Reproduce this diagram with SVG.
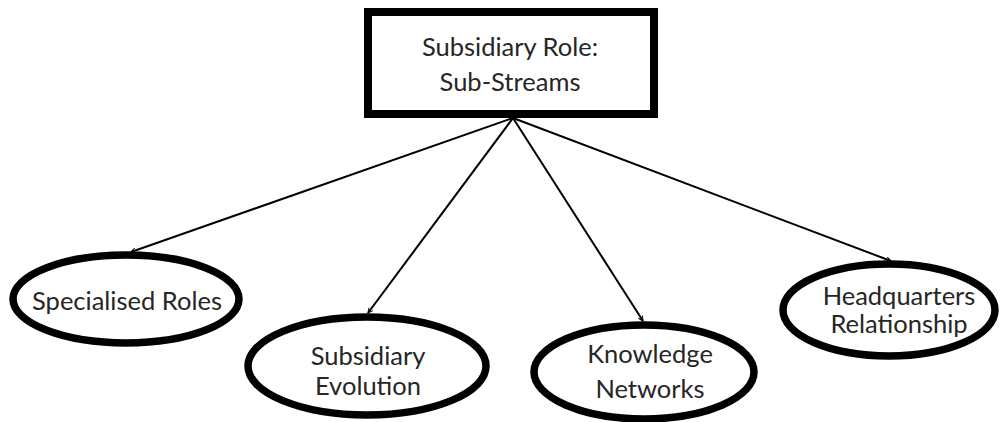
<svg xmlns="http://www.w3.org/2000/svg" width="1005" height="422" viewBox="0 0 1005 422">
<defs>
<style>
.box{fill:#fff;stroke:#000;stroke-width:8}
.oval{fill:#fff;stroke:#000;stroke-width:7.5}
.lbl{font-family:Lato,"Liberation Sans",sans-serif;font-size:25.5px;fill:#262626;text-anchor:middle}
.conn{stroke:#000;stroke-width:2;fill:none;marker-end:url(#arr)}
</style>
<marker id="arr" viewBox="0 0 10 10" refX="9" refY="5" markerWidth="6" markerHeight="6" orient="auto" markerUnits="userSpaceOnUse">
<path d="M1,1 L9,5 L1,9" fill="none" stroke="#000" stroke-width="1.6"/>
</marker>
</defs>
<g id="connectors">
<line class="conn" x1="513" y1="118" x2="131" y2="252"/>
<line class="conn" x1="513" y1="118" x2="368" y2="313"/>
<line class="conn" x1="513" y1="118" x2="643" y2="321"/>
<line class="conn" x1="513" y1="118" x2="891" y2="261"/>
</g>
<g id="root">
<rect class="box" x="368" y="12" width="286" height="102"/>
<text class="lbl" x="510" y="56">Subsidiary Role:</text>
<text class="lbl" x="510" y="91">Sub-Streams</text>
</g>
<g id="specialised-roles">
<ellipse class="oval" cx="126" cy="299" rx="113" ry="44"/>
<text class="lbl" x="127" y="310">Specialised Roles</text>
</g>
<g id="subsidiary-evolution">
<ellipse class="oval" cx="367" cy="366" rx="119" ry="49"/>
<text class="lbl" x="368" y="365">Subsidiary</text>
<text class="lbl" x="368" y="395">Evolution</text>
</g>
<g id="knowledge-networks">
<ellipse class="oval" cx="644" cy="372" rx="110" ry="47"/>
<text class="lbl" x="650" y="363">Knowledge</text>
<text class="lbl" x="650" y="398">Networks</text>
</g>
<g id="headquarters-relationship">
<ellipse class="oval" cx="889" cy="310" rx="106" ry="46"/>
<text class="lbl" x="899" y="305">Headquarters</text>
<text class="lbl" x="899" y="333">Relationship</text>
</g>
</svg>
